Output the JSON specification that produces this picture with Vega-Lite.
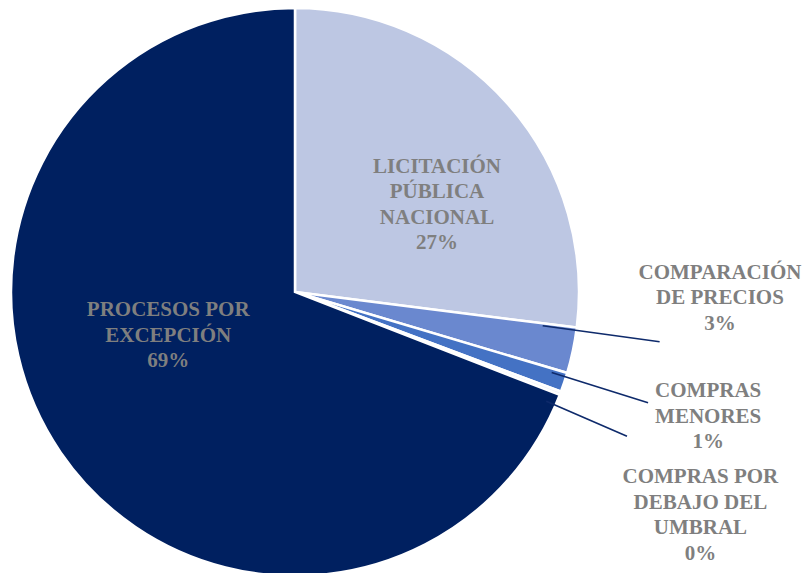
{
  "$schema": "https://vega.github.io/schema/vega-lite/v6.json",
  "autosize": {"type": "none"},
  "width": 590,
  "height": 562,
  "padding": {"left": 0, "top": 11, "right": 218, "bottom": 0},
  "background": "white",
  "view": {"stroke": null},
  "data": {
    "values": [
      {"idx": 1, "cat": "L", "name": "LICITACIÓN PÚBLICA NACIONAL", "value": 27.0, "label": "LICITACIÓN\nPÚBLICA\nNACIONAL\n27%"},
      {"idx": 2, "cat": "C", "name": "COMPARACIÓN DE PRECIOS", "value": 2.6, "label": "COMPARACIÓN\nDE PRECIOS\n3%"},
      {"idx": 3, "cat": "M", "name": "COMPRAS MENORES", "value": 1.1, "label": "COMPRAS\nMENORES\n1%"},
      {"idx": 4, "cat": "U", "name": "COMPRAS POR DEBAJO DEL UMBRAL", "value": 0.2, "label": "COMPRAS POR\nDEBAJO DEL\nUMBRAL\n0%"},
      {"idx": 5, "cat": "P", "name": "PROCESOS POR EXCEPCIÓN", "value": 69.1, "label": "PROCESOS POR\nEXCEPCIÓN\n69%"}
    ]
  },
  "encoding": {
    "theta": {"field": "value", "type": "quantitative", "stack": true},
    "order": {"field": "idx", "type": "quantitative"},
    "detail": {"field": "cat", "type": "nominal"}
  },
  "layer": [
    {
      "mark": {"type": "arc", "radius": 284, "stroke": "white", "strokeWidth": 2.5},
      "encoding": {
        "color": {
          "field": "cat", "type": "nominal", "legend": null,
          "scale": {"domain": ["L", "C", "M", "U", "P"], "range": ["#BDC7E3", "#6A88CF", "#4472C4", "#F2F4FA", "#002060"]}
        }
      }
    },
    {
      "mark": {"type": "arc", "radius": 368, "radius2": 250, "padAngle": 3.14, "fill": null, "strokeWidth": 1.6, "thetaOffset": -0.0716, "theta2Offset": -0.0716},
      "encoding": {"stroke": {"condition": {"test": "datum.cat === 'C'", "value": "#0E2A6B"}, "value": "transparent"}}
    },
    {
      "mark": {"type": "arc", "radius": 370, "radius2": 269, "padAngle": 3.14, "fill": null, "strokeWidth": 1.6, "thetaOffset": -0.0199, "theta2Offset": -0.0199},
      "encoding": {"stroke": {"condition": {"test": "datum.cat === 'M'", "value": "#0E2A6B"}, "value": "transparent"}}
    },
    {
      "mark": {"type": "arc", "radius": 362, "radius2": 274, "padAngle": 3.14, "fill": null, "strokeWidth": 1.6, "thetaOffset": 0.0457, "theta2Offset": 0.0457},
      "encoding": {"stroke": {"condition": {"test": "datum.cat === 'U'", "value": "#0E2A6B"}, "value": "transparent"}}
    },
    {
      "mark": {"type": "text", "radius": 160, "dx": 22, "dy": -19.5, "font": "Times New Roman", "fontWeight": "bold", "fontSize": 21, "lineHeight": 25.5, "lineBreak": "\n", "align": "center", "baseline": "middle", "color": "#7F7F7F"},
      "encoding": {"text": {"condition": {"test": "datum.cat === 'L'", "field": "label", "type": "nominal"}, "value": ""}}
    },
    {
      "mark": {"type": "text", "radius": 420, "dx": 14, "dy": -105.5, "font": "Times New Roman", "fontWeight": "bold", "fontSize": 21, "lineHeight": 25.5, "lineBreak": "\n", "align": "center", "baseline": "middle", "color": "#7F7F7F"},
      "encoding": {"text": {"condition": {"test": "datum.cat === 'C'", "field": "label", "type": "nominal"}, "value": ""}}
    },
    {
      "mark": {"type": "text", "radius": 420, "dx": 15, "dy": -34.5, "font": "Times New Roman", "fontWeight": "bold", "fontSize": 21, "lineHeight": 25.5, "lineBreak": "\n", "align": "center", "baseline": "middle", "color": "#7F7F7F"},
      "encoding": {"text": {"condition": {"test": "datum.cat === 'M'", "field": "label", "type": "nominal"}, "value": ""}}
    },
    {
      "mark": {"type": "text", "radius": 420, "dx": 13, "dy": 35.5, "font": "Times New Roman", "fontWeight": "bold", "fontSize": 21, "lineHeight": 25.5, "lineBreak": "\n", "align": "center", "baseline": "middle", "color": "#7F7F7F"},
      "encoding": {"text": {"condition": {"test": "datum.cat === 'U'", "field": "label", "type": "nominal"}, "value": ""}}
    },
    {
      "mark": {"type": "text", "radius": 133, "dx": -17, "dy": -57, "font": "Times New Roman", "fontWeight": "bold", "fontSize": 21, "lineHeight": 25.5, "lineBreak": "\n", "align": "center", "baseline": "middle", "color": "#7F7F7F"},
      "encoding": {"text": {"condition": {"test": "datum.cat === 'P'", "field": "label", "type": "nominal"}, "value": ""}}
    }
  ]
}
